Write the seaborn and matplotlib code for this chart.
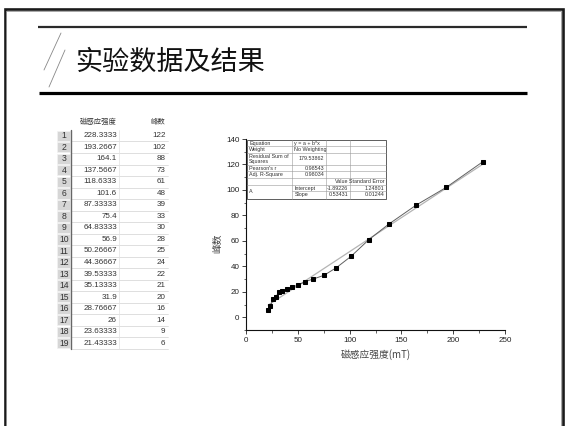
import numpy as np
import pandas as pd
import matplotlib
matplotlib.use("Agg")
import matplotlib.pyplot as plt
import seaborn as sns
from matplotlib.ticker import MultipleLocator
from matplotlib.patches import Rectangle

# ---------------- data ----------------
title = "实验数据及结果"
col_headers = ["磁感应强度", "峰数"]
field = [228.3333, 193.2667, 164.1, 137.5667, 118.6333, 101.6, 87.33333, 75.4,
         64.83333, 56.9, 50.26667, 44.36667, 39.53333, 35.13333, 31.9, 28.76667,
         26, 23.63333, 21.43333]
peaks = [122, 102, 88, 73, 61, 48, 39, 33, 30, 28, 25, 24, 22, 21, 20, 16, 14, 9, 6]
xlabel = "磁感应强度(mT)"
ylabel = "峰数"
x_ticks = [0, 50, 100, 150, 200, 250]
y_ticks = [0, 20, 40, 60, 80, 100, 120, 140]

stat_names = ["Equation", "Weight", "Residual Sum of\nSquares", "Pearson's r", "Adj. R-Square"]
stat_values = ["y = a + b*x", "No Weighting", "179.53862", "0.98543", "0.98034"]
param_header = ["Value", "Standard Error"]
param_group = "A"
param_names = ["Intercept", "Slope"]
param_values = ["-1.89226", "0.53431"]
param_errors = ["1.24801", "0.01244"]

# ---------------- style ----------------
sns.set_style("ticks")
plt.rcParams['font.family'] = ['Liberation Sans', 'Noto Sans CJK SC', 'DejaVu Sans']
plt.rcParams['axes.unicode_minus'] = False

W, H = 565, 426
fig = plt.figure(figsize=(W / 100, H / 100), dpi=100)
fig.patch.set_facecolor("white")

# main plot axes (pixel box: x 246..505, y 139..330)
ax = fig.add_axes([246 / W, 1 - 330 / H, 259 / W, 191 / H])
ax.set_facecolor("none")
df = pd.DataFrame({"field": field, "peaks": peaks})
sns.regplot(data=df, x="field", y="peaks", ax=ax, ci=None, scatter=False,
            line_kws=dict(color="#b4b4b4", lw=0.9, zorder=1))
sns.lineplot(data=df, x="field", y="peaks", ax=ax, color="#606060", lw=0.7,
             marker="s", markersize=3.1, markerfacecolor="black",
             markeredgecolor="black", zorder=3)
ax.set_xlim(0, 250)
ax.set_ylim(-10, 140)
ax.set_xticks(x_ticks)
ax.set_yticks(y_ticks)
ax.xaxis.set_minor_locator(MultipleLocator(25))
ax.yaxis.set_minor_locator(MultipleLocator(10))
ax.tick_params(which="major", direction="out", length=3.2, width=0.6,
               labelsize=5.8, pad=1.5, colors="#222")
ax.tick_params(which="minor", direction="out", length=1.8, width=0.5, colors="#222")
for s in ["top", "right"]:
    ax.spines[s].set_visible(False)
for s in ["left", "bottom"]:
    ax.spines[s].set_linewidth(0.8)
    ax.spines[s].set_color("#111")
ax.set_xlabel("")
ax.set_ylabel("")

# overlay axes in pixel coordinates for slide decorations, table and texts
ov = fig.add_axes([0, 0, 1, 1])
ov.set_xlim(0, W)
ov.set_ylim(H, 0)
ov.axis("off")
ov.set_facecolor("none")

# slide border
ov.plot([4.5, 4.5, 562.5, 562.5], [H + 5, 9, 9, H + 5], color="#1a1a1a", lw=1.9,
        solid_joinstyle="miter")
ov.plot([6.3, 6.3, 560.7, 560.7], [H + 5, 10.8, 10.8, H + 5], color="#999", lw=0.6)
# header lines
ov.plot([38, 527], [27, 27], color="#2a2a2a", lw=1.6, solid_capstyle="butt")
ov.plot([39, 527], [93, 93], color="black", lw=2.3, solid_capstyle="butt")
# slashes
ov.plot([61, 44], [33, 70], color="#888", lw=0.6)
ov.plot([65, 49], [50, 87], color="#888", lw=0.6)
# title
ov.text(75, 62, title, fontsize=19.5, family=['Noto Sans CJK SC', 'DejaVu Sans'],
        color="#111", va="center", ha="left")

# axis labels
ov.text(376, 355, xlabel, fontsize=7, color="#444", ha="center", va="center",
        family=['Noto Sans CJK SC', 'DejaVu Sans'])
ov.text(217, 243, ylabel, fontsize=7, color="#444", ha="center", va="center",
        rotation=90, family=['Noto Sans CJK SC', 'DejaVu Sans'])

# ---------------- data table (left) ----------------
row0 = 135.7
rh = 11.53
tfs = 5.8
ov.text(98, 122, col_headers[0], fontsize=5.3, color="#333", ha="center", va="center",
        family=['Noto Sans CJK SC', 'DejaVu Sans'])
ov.text(158, 122, col_headers[1], fontsize=5.3, color="#333", ha="center", va="center",
        family=['Noto Sans CJK SC', 'DejaVu Sans'])
for i, (fv, pv) in enumerate(zip(field, peaks)):
    yc = row0 + i * rh
    ov.add_patch(Rectangle((57, yc - rh / 2 + 0.6), 13.2, rh - 1.2,
                           facecolor="#d6d6d6", edgecolor="#f2f2f2", lw=0.5))
    ov.text(64, yc, str(i + 1), fontsize=6.2, color="#333", ha="center", va="center")
    ov.text(117, yc, "{:.7g}".format(fv), fontsize=tfs, color="#333", ha="right", va="center")
    ov.text(165.5, yc, str(pv), fontsize=tfs, color="#333", ha="right", va="center")
    ov.plot([71, 168], [yc + rh / 2, yc + rh / 2], color="#d2d2d2", lw=0.5)
n = len(field)
ov.plot([70.8, 70.8], [row0 - rh / 2, row0 + (n - 0.5) * rh], color="#666", lw=1.0)
ov.plot([119, 119], [row0 - rh / 2, row0 + (n - 0.5) * rh], color="#e2e2e2", lw=0.5)

# ---------------- fit statistics box (inside plot) ----------------
bx0, bx1 = 247, 386
cx = [247, 292.3, 326, 350, 386]
rows_y = [140, 146.3, 152.6, 164.6, 171.4, 178.2, 184.8, 191.4, 198.5]
sfs = 3.9
ov.add_patch(Rectangle((bx0, rows_y[0]), bx1 - bx0, rows_y[-1] - rows_y[0],
                       facecolor="white", edgecolor="#444", lw=0.6, zorder=4))
for idx, yy in enumerate(rows_y[1:-1], start=1):
    xs = cx[1] if idx == 7 else bx0
    ov.plot([xs, bx1], [yy, yy], color="#9a9a9a", lw=0.4, zorder=5)
for c in cx[1:4]:
    ov.plot([c, c], [rows_y[0], rows_y[-1]], color="#9a9a9a", lw=0.4, zorder=5)
for k, (nm, val) in enumerate(zip(stat_names, stat_values)):
    yc = (rows_y[k] + rows_y[k + 1]) / 2
    ov.text(cx[0] + 2, yc, nm, fontsize=sfs, color="#333", ha="left", va="center",
            zorder=6, linespacing=1.0)
    if k < 2:
        ov.text(cx[1] + 2, yc, val, fontsize=sfs, color="#333", ha="left", va="center", zorder=6)
    else:
        ov.text(cx[2] - 1.5, yc, val, fontsize=sfs, color="#333", ha="right", va="center", zorder=6)
yc = (rows_y[5] + rows_y[6]) / 2
ov.text(cx[3] - 1.5, yc, param_header[0], fontsize=sfs, color="#333", ha="right", va="center", zorder=6)
ov.text(cx[4] - 1.5, yc, param_header[1], fontsize=sfs, color="#333", ha="right", va="center", zorder=6)
ov.text(cx[0] + 2, (rows_y[6] + rows_y[8]) / 2, param_group, fontsize=sfs, color="#333",
        ha="left", va="center", zorder=6)
for j in range(2):
    yc = (rows_y[6 + j] + rows_y[7 + j]) / 2
    ov.text(cx[1] + 2, yc, param_names[j], fontsize=sfs, color="#333", ha="left", va="center", zorder=6)
    ov.text(cx[3] - 1.5, yc, param_values[j], fontsize=sfs, color="#333", ha="right", va="center", zorder=6)
    ov.text(cx[4] - 1.5, yc, param_errors[j], fontsize=sfs, color="#333", ha="right", va="center", zorder=6)

fig.savefig("out.png", dpi=100, facecolor="white")
